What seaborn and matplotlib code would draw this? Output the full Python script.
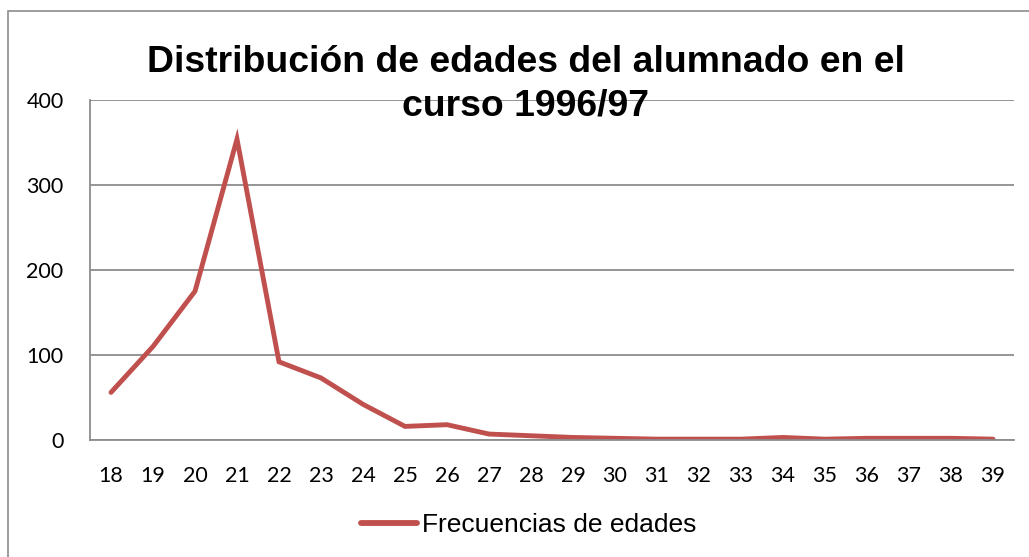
import matplotlib
matplotlib.use("Agg")
import matplotlib.pyplot as plt
import seaborn as sns
import pandas as pd
from matplotlib.patches import Rectangle

ages = [18, 19, 20, 21, 22, 23, 24, 25, 26, 27, 28, 29, 30, 31, 32, 33, 34, 35, 36, 37, 38, 39]
freqs = [56, 110, 175, 354, 92, 73, 42, 16, 18, 7, 5, 3, 2, 1, 1, 1, 3, 1, 2, 2, 2, 1]
series_name = "Frecuencias de edades"
title_lines = ["Distribución de edades del alumnado en el", "curso 1996/97"]
yticks = [0, 100, 200, 300, 400]

df = pd.DataFrame({"Edad": ages, "Frecuencia": freqs})

sns.set_theme(style="white")
plt.rcParams['font.family'] = ['Liberation Sans', 'DejaVu Sans']
plt.rcParams['text.color'] = 'black'

fig = plt.figure(figsize=(10.29, 5.57), dpi=100)
ax = fig.add_axes([90/1029, 1-440/557, (1014-90)/1029, (440-100)/557])

sns.lineplot(data=df, x="Edad", y="Frecuencia", ax=ax, color="#C0504D",
             linewidth=3.5, label=series_name, solid_capstyle="round",
             solid_joinstyle="miter")

tick_font = ['Lato', 'DejaVu Sans']
ax.set_xlim(17.5, 39.5)
ax.set_ylim(0, 400)
ax.set_xticks(ages)
ax.set_xticklabels([str(a) for a in ages], fontsize=15.5, family=tick_font)
ax.set_yticks(yticks)
ax.set_yticklabels([str(v) for v in yticks], fontsize=15.5, family=tick_font)
ax.tick_params(axis='y', length=0, pad=19, colors="#000000")
ax.tick_params(axis='x', length=0, pad=19, colors="#000000")
ax.set_xlabel("")
ax.set_ylabel("")
ax.yaxis.grid(True, color="#8C8C8C", linewidth=1.3)
ax.set_axisbelow(True)
for s in ["top", "right"]:
    ax.spines[s].set_visible(False)
for s in ["left", "bottom"]:
    ax.spines[s].set_color("#8C8C8C")
    ax.spines[s].set_linewidth(1.3)

leg = ax.legend(loc="center", bbox_to_anchor=(529/1029, 1-525/557),
                bbox_transform=fig.transFigure, frameon=False, fontsize=19,
                handlelength=2.1, handletextpad=0.2)
for h in leg.get_lines():
    h.set_linewidth(4.2)
for t in leg.get_texts():
    t.set_color("black")

fig.text(526/1029, 1-72/557, title_lines[0], ha="center", va="baseline",
         fontsize=26.9, fontweight="bold", color="black")
fig.text(525/1029, 1-115/557, title_lines[1], ha="center", va="baseline",
         fontsize=26.9, fontweight="bold", color="black")

fig.patches.append(Rectangle((8/1029, -0.1), 1.2, 1-11/557+0.1, transform=fig.transFigure,
                             fill=False, edgecolor="#8C8C8C", linewidth=1.2))

fig.savefig("out.png", dpi=100, facecolor="white")
